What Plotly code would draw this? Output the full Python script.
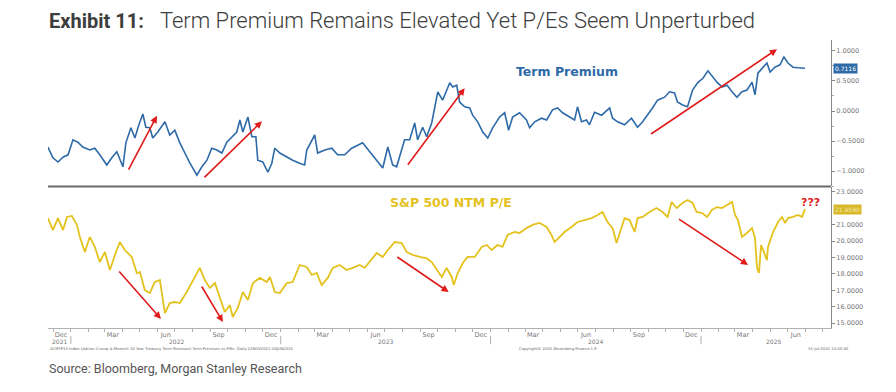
import pandas as pd
import plotly.graph_objects as go

# ---------------- data (time in fractional years) ----------------
tp_time = [2021.890, 2021.914, 2021.938, 2021.962, 2021.986, 2022.010, 2022.033, 2022.057, 2022.090, 2022.114,
           2022.138, 2022.171, 2022.195, 2022.219, 2022.248, 2022.262, 2022.286, 2022.305, 2022.324, 2022.343,
           2022.357, 2022.376, 2022.390, 2022.414, 2022.448, 2022.471, 2022.495, 2022.519, 2022.543, 2022.567,
           2022.600, 2022.624, 2022.648, 2022.671, 2022.695, 2022.719, 2022.743, 2022.767, 2022.790, 2022.805,
           2022.819, 2022.843, 2022.862, 2022.881, 2022.890, 2022.914, 2022.938, 2022.957, 2022.971, 2022.995,
           2023.029, 2023.057, 2023.090, 2023.114, 2023.124, 2023.148, 2023.162, 2023.176, 2023.210, 2023.243,
           2023.271, 2023.305, 2023.338, 2023.367, 2023.390, 2023.424, 2023.457, 2023.486, 2023.510, 2023.533,
           2023.552, 2023.576, 2023.590, 2023.614, 2023.638, 2023.652, 2023.676, 2023.695, 2023.719, 2023.733,
           2023.748, 2023.771, 2023.790, 2023.805, 2023.819, 2023.838, 2023.852, 2023.876, 2023.900, 2023.914,
           2023.938, 2023.962, 2023.986, 2024.010, 2024.043, 2024.067, 2024.086, 2024.105, 2024.138, 2024.171,
           2024.186, 2024.210, 2024.243, 2024.267, 2024.295, 2024.319, 2024.343, 2024.376, 2024.400, 2024.414,
           2024.433, 2024.457, 2024.471, 2024.495, 2024.529, 2024.567, 2024.581, 2024.605, 2024.638, 2024.671,
           2024.700, 2024.724, 2024.748, 2024.771, 2024.795, 2024.829, 2024.852, 2024.876, 2024.890, 2024.914,
           2024.938, 2024.962, 2024.986, 2025.010, 2025.033, 2025.057, 2025.076, 2025.100, 2025.124, 2025.148,
           2025.171, 2025.195, 2025.219, 2025.243, 2025.257, 2025.271, 2025.295, 2025.314, 2025.329, 2025.352,
           2025.376, 2025.395, 2025.414, 2025.438, 2025.462, 2025.495]
term_premium = [-0.60, -0.78, -0.85, -0.77, -0.73, -0.48, -0.52, -0.60, -0.65, -0.62,
                -0.73, -0.90, -0.78, -0.68, -0.93, -0.53, -0.28, -0.45, -0.23, -0.05,
                -0.27, -0.28, -0.45, -0.35, -0.18, -0.40, -0.32, -0.53, -0.70, -0.87,
                -1.07, -0.93, -0.82, -0.62, -0.65, -0.70, -0.52, -0.43, -0.35, -0.15,
                -0.35, -0.10, -0.43, -0.43, -0.82, -0.85, -1.02, -0.87, -0.62, -0.70,
                -0.77, -0.82, -0.87, -0.90, -0.65, -0.48, -0.40, -0.70, -0.65, -0.62,
                -0.73, -0.73, -0.62, -0.57, -0.53, -0.68, -0.82, -0.95, -0.60, -0.90,
                -0.93, -0.65, -0.48, -0.48, -0.20, -0.48, -0.27, -0.43, -0.20, 0.05,
                0.32, 0.18, 0.35, 0.47, 0.40, 0.43, 0.15, 0.07, 0.05, -0.07,
                -0.18, -0.35, -0.45, -0.28, -0.10, -0.03, -0.32, -0.10, -0.03, -0.15,
                -0.28, -0.18, -0.12, -0.15, 0.02, 0.05, -0.03, -0.10, -0.15, 0.07,
                -0.18, -0.15, -0.23, -0.02, -0.07, 0.05, -0.12, -0.18, -0.23, -0.12,
                -0.27, -0.18, -0.07, 0.05, 0.18, 0.23, 0.32, 0.30, 0.15, 0.10,
                0.07, 0.35, 0.47, 0.55, 0.67, 0.57, 0.48, 0.40, 0.43, 0.32,
                0.23, 0.32, 0.35, 0.48, 0.27, 0.63, 0.72, 0.80, 0.65, 0.73,
                0.77, 0.90, 0.80, 0.73, 0.72, 0.7116]

pe_time = [2021.890, 2021.914, 2021.938, 2021.962, 2021.981, 2022.005, 2022.029, 2022.043, 2022.067, 2022.090,
           2022.114, 2022.138, 2022.162, 2022.186, 2022.210, 2022.233, 2022.257, 2022.290, 2022.314, 2022.329,
           2022.352, 2022.376, 2022.400, 2022.424, 2022.448, 2022.471, 2022.495, 2022.519, 2022.552, 2022.581,
           2022.614, 2022.638, 2022.662, 2022.686, 2022.710, 2022.733, 2022.757, 2022.771, 2022.795, 2022.819,
           2022.843, 2022.867, 2022.900, 2022.933, 2022.948, 2022.971, 2022.995, 2023.029, 2023.057, 2023.090,
           2023.124, 2023.148, 2023.171, 2023.195, 2023.224, 2023.248, 2023.281, 2023.314, 2023.343, 2023.376,
           2023.400, 2023.424, 2023.457, 2023.486, 2023.510, 2023.543, 2023.576, 2023.600, 2023.629, 2023.662,
           2023.695, 2023.719, 2023.743, 2023.767, 2023.790, 2023.814, 2023.824, 2023.843, 2023.867, 2023.890,
           2023.924, 2023.957, 2023.981, 2024.005, 2024.033, 2024.057, 2024.081, 2024.114, 2024.138, 2024.171,
           2024.200, 2024.233, 2024.267, 2024.290, 2024.305, 2024.329, 2024.352, 2024.386, 2024.414, 2024.448,
           2024.481, 2024.510, 2024.533, 2024.557, 2024.581, 2024.600, 2024.614, 2024.638, 2024.662, 2024.686,
           2024.700, 2024.724, 2024.757, 2024.790, 2024.819, 2024.843, 2024.862, 2024.886, 2024.914, 2024.938,
           2024.962, 2024.981, 2025.005, 2025.029, 2025.052, 2025.076, 2025.100, 2025.124, 2025.148, 2025.162,
           2025.176, 2025.195, 2025.219, 2025.243, 2025.257, 2025.267, 2025.276, 2025.286, 2025.295, 2025.314,
           2025.319, 2025.343, 2025.367, 2025.386, 2025.400, 2025.414, 2025.438, 2025.462, 2025.481, 2025.495]
pe_ratio = [21.41, 20.68, 21.41, 20.68, 21.48, 21.54, 20.99, 20.26, 19.34, 20.26,
            19.65, 18.73, 19.34, 18.24, 19.16, 19.95, 19.46, 19.04, 18.06, 18.12,
            17.02, 16.84, 17.51, 17.63, 15.62, 16.23, 16.29, 16.23, 16.90, 17.63,
            18.37, 17.63, 17.15, 17.45, 16.54, 15.68, 16.11, 15.38, 15.93, 16.90,
            16.41, 17.45, 17.76, 17.51, 17.82, 16.90, 16.84, 17.45, 17.51, 18.55,
            18.43, 17.94, 18.06, 17.33, 17.76, 18.37, 18.55, 18.24, 18.37, 18.55,
            18.37, 18.73, 19.28, 19.04, 19.46, 19.95, 19.89, 19.34, 19.16, 19.04,
            18.95, 18.73, 18.24, 17.82, 18.37, 17.82, 17.33, 18.06, 18.67, 19.04,
            19.04, 19.65, 19.77, 19.46, 19.77, 19.65, 20.38, 20.56, 20.50, 20.80,
            20.99, 21.11, 20.87, 20.38, 19.95, 20.26, 20.56, 20.87, 21.17, 21.29,
            21.41, 21.60, 21.78, 21.17, 20.80, 19.89, 20.50, 21.41, 21.29, 20.56,
            21.41, 21.48, 21.78, 22.02, 21.78, 21.48, 22.39, 22.02, 22.33, 22.51,
            22.33, 21.78, 21.72, 21.48, 21.90, 22.08, 22.02, 22.20, 22.39, 21.60,
            21.29, 20.26, 20.50, 20.80, 20.20, 18.37, 18.06, 19.77, 19.46, 18.85,
            19.65, 20.56, 21.17, 21.48, 21.11, 21.41, 21.48, 21.60, 21.48, 21.959]

tp_last_label = "0.7116"
pe_last_label = "21.9590"

month_tick_dates = ["2021-12-15", "2022-03-15", "2022-06-15", "2022-09-15", "2022-12-15",
                    "2023-03-15", "2023-06-15", "2023-09-15", "2023-12-15", "2024-03-15",
                    "2024-06-15", "2024-09-15", "2024-12-15", "2025-03-15", "2025-06-15"]
month_tick_text = ["Dec", "Mar", "Jun", "Sep", "Dec", "Mar", "Jun", "Sep", "Dec", "Mar",
                   "Jun", "Sep", "Dec", "Mar", "Jun"]
year_labels = ["2021", "2022", "2023", "2024", "2025"]
year_label_time = [2021.945, 2022.505, 2023.5, 2024.5, 2025.343]
year_breaks = ["2022-01-01", "2023-01-01", "2024-01-01", "2025-01-01"]

tp_ticks = [-1.0, -0.5, 0.0, 0.5, 1.0]
pe_ticks = [15, 16, 17, 18, 19, 20, 21, 23]

# arrows: (tail time, tail value, head time, head value)
tp_arrows = [(2022.271, -1.00, 2022.410, -0.08),
             (2022.629, -1.13, 2022.910, -0.17),
             (2023.600, -0.92, 2023.876, 0.38),
             (2024.757, -0.40, 2025.362, 1.03)]
pe_arrows = [(2022.224, 18.24, 2022.429, 15.26),
             (2022.619, 17.33, 2022.724, 15.07),
             (2023.548, 19.10, 2023.800, 16.90),
             (2024.890, 21.41, 2025.224, 18.55)]


def to_date(t):
    y = int(t)
    return pd.Timestamp(year=y, month=1, day=1) + pd.Timedelta(days=(t - y) * 365.25)


def iso(t):
    return to_date(t).strftime("%Y-%m-%d %H:%M")


BLUE = "#2e6aa8"
GOLD = "#e4c21d"
RED = "#e01b1b"
GREY = "#777777"

fig = go.Figure()
fig.add_trace(go.Scatter(x=[to_date(t) for t in tp_time], y=term_premium, mode="lines",
                         line=dict(color=BLUE, width=1.6), xaxis="x", yaxis="y",
                         hoverinfo="skip", showlegend=False))
fig.add_trace(go.Scatter(x=[to_date(t) for t in pe_time], y=pe_ratio, mode="lines",
                         line=dict(color=GOLD, width=1.8), xaxis="x", yaxis="y2",
                         hoverinfo="skip", showlegend=False))

annotations = []
for (t0, v0, t1, v1) in tp_arrows:
    annotations.append(dict(x=iso(t1), y=v1, ax=iso(t0), ay=v0, xref="x", yref="y",
                            axref="x", ayref="y", text="", showarrow=True, arrowhead=2,
                            arrowsize=0.9, arrowwidth=1.6, arrowcolor=RED))
for (t0, v0, t1, v1) in pe_arrows:
    annotations.append(dict(x=iso(t1), y=v1, ax=iso(t0), ay=v0, xref="x", yref="y2",
                            axref="x", ayref="y2", text="", showarrow=True, arrowhead=2,
                            arrowsize=0.9, arrowwidth=1.6, arrowcolor=RED))

FOOT_Y = -0.0715
annotations += [
    dict(x=iso(2024.362), y=0.65, xref="x", yref="y", text="<b>Term Premium</b>",
         showarrow=False, font=dict(family="DejaVu Sans", size=12.5, color=BLUE)),
    dict(x=iso(2023.81), y=22.39, xref="x", yref="y2", text="<b>S&P 500 NTM P/E</b>",
         showarrow=False, font=dict(family="DejaVu Sans", size=12.5, color=GOLD)),
    dict(x=iso(2025.519), y=22.39, xref="x", yref="y2", text="<b>???</b>",
         showarrow=False, font=dict(family="DejaVu Sans", size=11, color=RED)),
    dict(x=1, xref="paper", xanchor="left", xshift=2, y=term_premium[-1], yref="y",
         text=tp_last_label, showarrow=False, bgcolor=BLUE, borderpad=1,
         font=dict(family="DejaVu Sans", size=6, color="white")),
    dict(x=1, xref="paper", xanchor="left", xshift=2, y=pe_ratio[-1], yref="y2",
         text=pe_last_label, showarrow=False, bgcolor="#d8b72a", borderpad=1,
         font=dict(family="DejaVu Sans", size=6, color="#f7eda8")),
    dict(x=0, xref="paper", xanchor="left", xshift=-1, y=1.066, yref="paper", yanchor="middle",
         text="<span style=\"font-size:20px\"><b>Exhibit 11:</b></span>\u00a0\u00a0\u00a0"
              "Term Premium Remains Elevated Yet P/Es Seem Unperturbed",
         showarrow=False, font=dict(family="Roboto", size=22, color="#3d3d3d", weight=300)),
    dict(x=0, xref="paper", xanchor="left", xshift=-1, y=-0.139, yref="paper", yanchor="middle",
         text="Source: Bloomberg, Morgan Stanley Research",
         showarrow=False, font=dict(family="Roboto", size=12.5, color="#555555")),
    dict(x=0, xref="paper", xanchor="left", y=FOOT_Y, yref="paper", yanchor="middle",
         text="ACMTP10 Index (Adrian Crump & Moench 10 Year Treasury Term Premium) Term Premium vs P/Es  Daily 22NOV2021-28JUN2025",
         showarrow=False, font=dict(family="DejaVu Sans", size=3.8, color="#666666")),
    dict(x=iso(2024.124), xref="x", xanchor="left", y=FOOT_Y, yref="paper", yanchor="middle",
         text="Copyright\u00a9 2025 Bloomberg Finance L.P.",
         showarrow=False, font=dict(family="DejaVu Sans", size=3.8, color="#666666")),
    dict(x=1.0255, xref="paper", xanchor="right", y=FOOT_Y, yref="paper", yanchor="middle",
         text="31-Jul-2025 12:40:30",
         showarrow=False, font=dict(family="DejaVu Sans", size=3.8, color="#666666")),
]
for lbl, t in zip(year_labels, year_label_time):
    annotations.append(dict(x=iso(t), xref="x", y=-0.0455, yref="paper", yanchor="middle",
                            text=lbl, showarrow=False,
                            font=dict(family="DejaVu Sans", size=6, color=GREY)))

shapes = [dict(type="line", xref="paper", yref="paper", x0=0, x1=1, y0=0.4913, y1=0.4913,
               line=dict(color="#6a6a6a", width=2))]
for d in year_breaks:
    shapes.append(dict(type="line", xref="x", yref="paper", x0=d, x1=d, y0=-0.028, y1=-0.056,
                       line=dict(color="#9a9a9a", width=0.8)))

fig.update_layout(
    width=888, height=384,
    margin=dict(l=40, r=65, t=32, b=64),
    paper_bgcolor="white", plot_bgcolor="white",
    showlegend=False,
    xaxis=dict(domain=[0, 1], anchor="y2", type="date",
               range=[to_date(2021.8905), to_date(2025.619)],
               tickvals=month_tick_dates, ticktext=month_tick_text, ticks="", ticklen=0,
               tickfont=dict(family="DejaVu Sans", size=6.5, color=GREY),
               showline=True, linecolor="#b0b0b0", linewidth=1, showgrid=False, zeroline=False,
               minor=dict(ticks="outside", ticklen=3, tickcolor="#b0b0b0", dtick="M1",
                          tick0="2021-12-01", showgrid=False)),
    yaxis=dict(domain=[0.493, 1], anchor="x", side="right", range=[-1.25, 1.183],
               tickvals=tp_ticks, tickformat=".4f", ticks="outside", ticklen=3,
               tickcolor="#888888", showline=True, linecolor="#888888", linewidth=1,
               showgrid=False, zeroline=False,
               tickfont=dict(family="DejaVu Sans", size=6.5, color=GREY),
               minor=dict(ticks="outside", ticklen=2, dtick=0.25, tick0=0, tickcolor="#aaaaaa")),
    yaxis2=dict(domain=[0, 0.4896], anchor="x", side="right", range=[14.707, 23.305],
                tickvals=pe_ticks, tickformat=".4f", ticks="outside", ticklen=3,
                tickcolor="#888888", showline=True, linecolor="#888888", linewidth=1,
                showgrid=False, zeroline=False,
                tickfont=dict(family="DejaVu Sans", size=6.5, color=GREY)),
    annotations=annotations,
    shapes=shapes,
)

fig.write_html("out.html")
